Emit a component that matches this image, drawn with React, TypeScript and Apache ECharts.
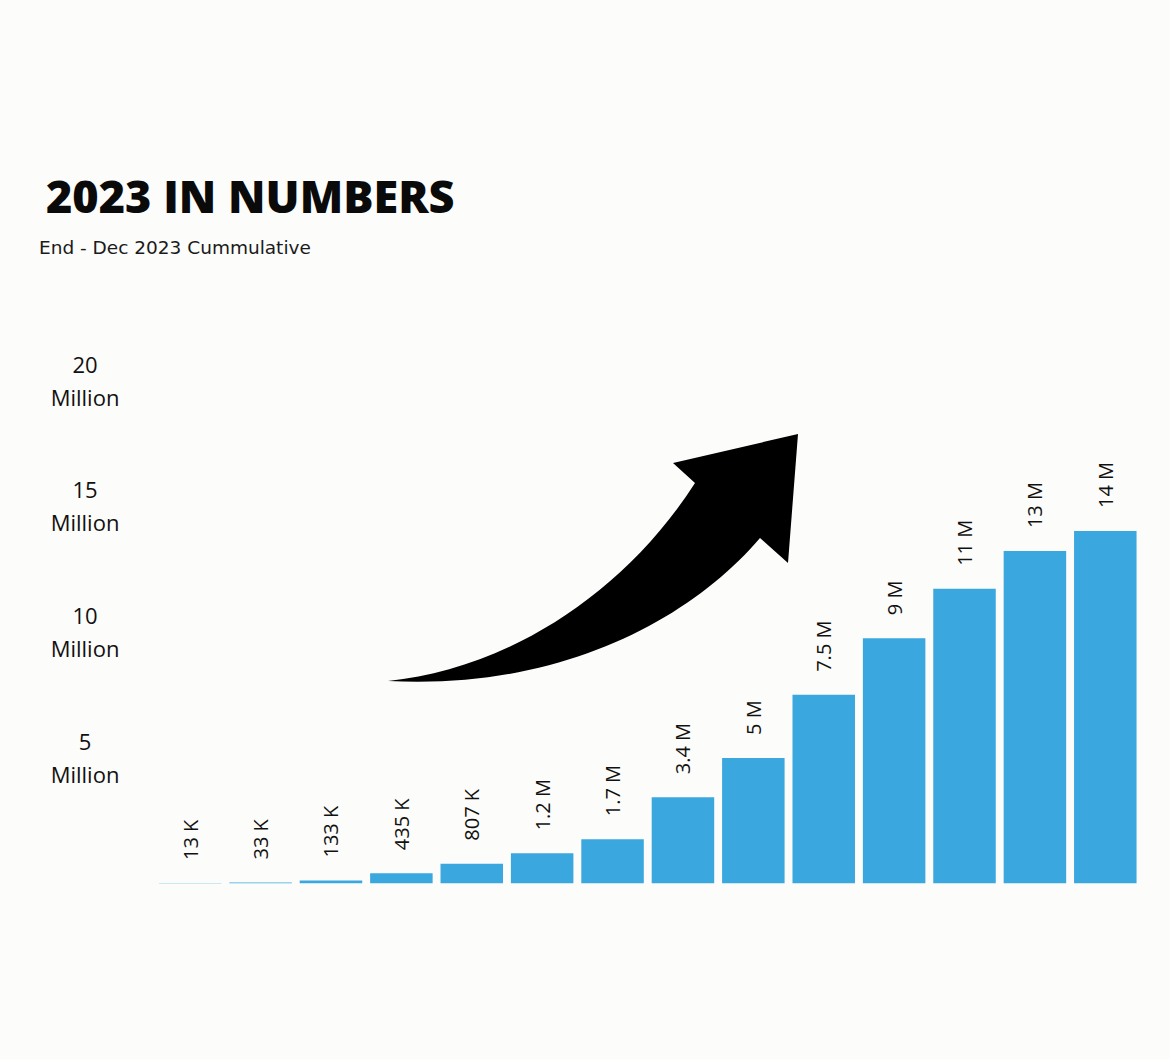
import React, { useEffect, useRef } from "react";
import * as echarts from "echarts";

const barLabels = ["13 K", "33 K", "133 K", "435 K", "807 K", "1.2 M", "1.7 M", "3.4 M", "5 M", "7.5 M", "9 M", "11 M", "13 M", "14 M"];
// Cumulative totals, millions (bar heights as drawn)
const values = [0.013, 0.033, 0.11, 0.4, 0.78, 1.19, 1.75, 3.42, 4.98, 7.49, 9.74, 11.7, 13.2, 14.0];
const yTicks = [0, 5, 10, 15, 20];

const ARROW_D =
  "M388,681 C500,670 620,600 695,483 L673,463 L798,434 L788,563 L760,538 C690,620 560,690 388,681 Z";

export default function App() {
  const ref = useRef<HTMLDivElement>(null);
  useEffect(() => {
    document.body.style.margin = "0";
    try {
      echarts.graphic.registerShape("bigArrow", echarts.graphic.extendPath(ARROW_D, {}) as any);
    } catch (e) {}
    const chart = echarts.init(ref.current!, null, { renderer: "svg" });
    const font = "'Open Sans', 'Noto Sans', sans-serif";
    const wide = "'DejaVu Sans', 'Open Sans', sans-serif";
    chart.setOption({
      animation: false,
      backgroundColor: "#fcfcfa",
      title: [
        {
          text: "2023 IN NUMBERS",
          left: 41,
          top: 168,
          textStyle: { fontSize: 45, fontWeight: 800, color: "#0a0a0a", fontFamily: font },
        },
        {
          text: "End - Dec 2023 Cummulative",
          left: 34,
          top: 233,
          textStyle: { fontSize: 18.5, fontWeight: 400, color: "#1a1a1a", fontFamily: wide },
        },
      ],
      grid: { left: 155, right: 29.5, top: 380, bottom: 175.7 },
      xAxis: {
        type: "category",
        data: barLabels,
        axisLine: { show: false },
        axisTick: { show: false },
        axisLabel: { show: false },
      },
      yAxis: {
        type: "value",
        min: yTicks[0],
        max: yTicks[yTicks.length - 1],
        interval: 5,
        axisLine: { show: false },
        axisTick: { show: false },
        splitLine: { show: false },
        axisLabel: {
          margin: 70,
          align: "center",
          color: "#111",
          fontSize: 22,
          lineHeight: 33,
          fontFamily: font,
          formatter: (v: number) => (v === 0 ? "" : `${v}\nMillion`),
        },
      },
      series: [
        {
          type: "bar",
          data: values,
          barWidth: 62.5,
          itemStyle: { color: "#3aa8df" },
          label: {
            show: true,
            position: "top",
            distance: 23,
            rotate: 90,
            align: "left",
            verticalAlign: "middle",
            fontSize: 20,
            color: "#111",
            fontFamily: font,
            formatter: (p: any) => barLabels[p.dataIndex],
          },
        },
      ],
      graphic: [
        {
          type: "bigArrow",
          x: 0,
          y: 0,
          style: { fill: "#000" },
          z: 10,
        },
      ],
    });
    return () => chart.dispose();
  }, []);
  return <div ref={ref} style={{ width: 1170, height: 1059 }} />;
}
